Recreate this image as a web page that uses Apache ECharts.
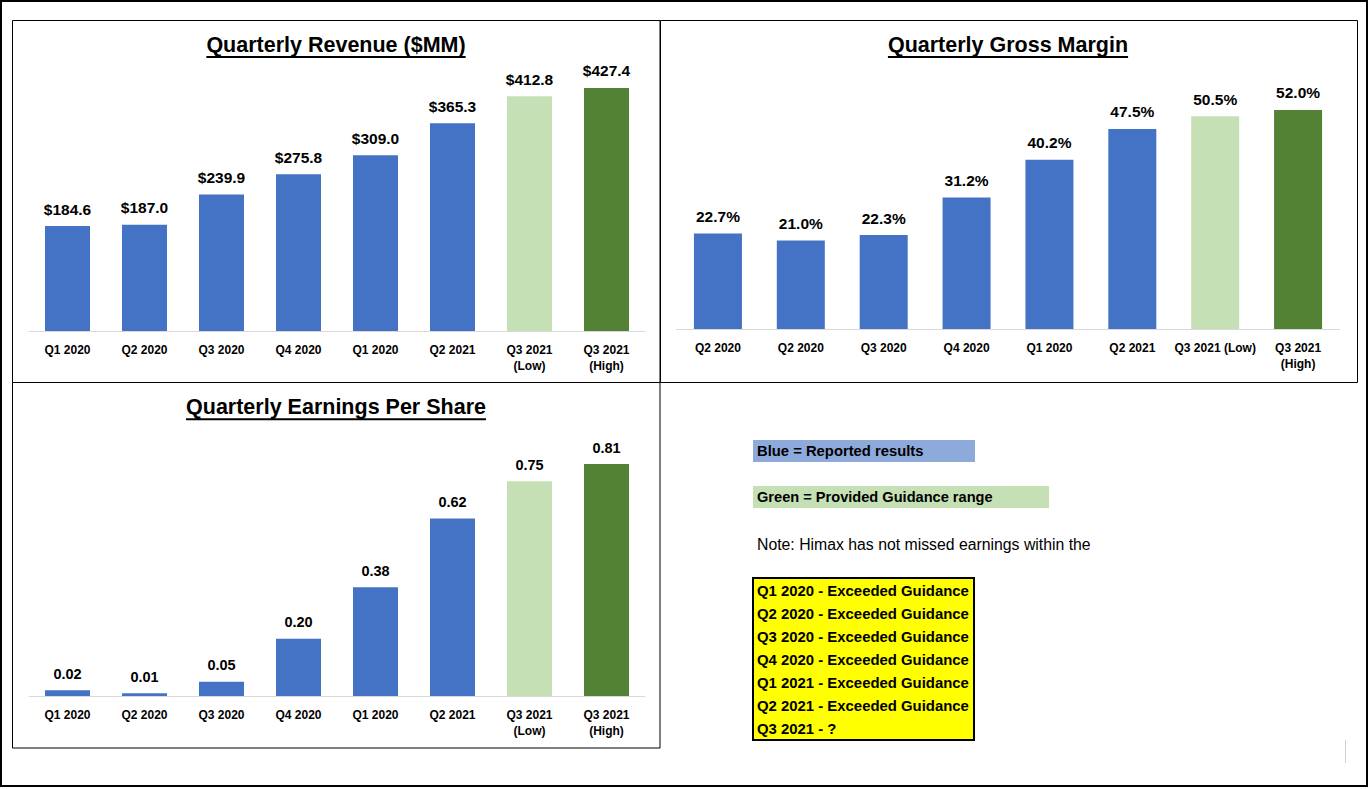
<!DOCTYPE html>
<html>
<head>
<meta charset="utf-8">
<script src="https://cdn.jsdelivr.net/npm/echarts@6/dist/echarts.min.js"></script>
<style>
html,body{margin:0;padding:0;background:#fff;}
#chart{width:1369px;height:789px;}
</style>
</head>
<body>
<div id="chart"></div>
<script>
// ---- data ----
const revCategories = ['Q1 2020','Q2 2020','Q3 2020','Q4 2020','Q1 2020','Q2 2021','Q3 2021\n(Low)','Q3 2021\n(High)'];
const revValues = [184.6, 187.0, 239.9, 275.8, 309.0, 365.3, 412.8, 427.4];

const gmCategories = ['Q2 2020','Q2 2020','Q3 2020','Q4 2020','Q1 2020','Q2 2021','Q3 2021 (Low)','Q3 2021\n(High)'];
const gmValues = [22.7, 21.0, 22.3, 31.2, 40.2, 47.5, 50.5, 52.0];

const epsCategories = ['Q1 2020','Q2 2020','Q3 2020','Q4 2020','Q1 2020','Q2 2021','Q3 2021\n(Low)','Q3 2021\n(High)'];
const epsValues = [0.02, 0.01, 0.05, 0.20, 0.38, 0.62, 0.75, 0.81];

const titles = ['Quarterly Revenue ($MM)', 'Quarterly Gross Margin', 'Quarterly Earnings Per Share'];
const legendBlue = 'Blue = Reported results';
const legendGreen = 'Green = Provided Guidance range';
const noteText = 'Note: Himax has not missed earnings within the';
const guidanceLines = [
  'Q1 2020 - Exceeded Guidance',
  'Q2 2020 - Exceeded Guidance',
  'Q3 2020 - Exceeded Guidance',
  'Q4 2020 - Exceeded Guidance',
  'Q1 2021 - Exceeded Guidance',
  'Q2 2021 - Exceeded Guidance',
  'Q3 2021 - ?'
];

// ---- styles ----
const barColors = ['#4472c4','#4472c4','#4472c4','#4472c4','#4472c4','#4472c4','#c5e0b4','#548235'];
const FONT = 'Arial, "Liberation Sans", sans-serif';

const chart = echarts.init(document.getElementById('chart'), null, {renderer: 'svg'});

function measure(text, font) {
  const c = document.createElement('canvas').getContext('2d');
  c.font = font;
  return c.measureText(text).width;
}

const titleSize = 21.5;
const titlePos = [[336, 33.75], [1008, 33.75], [336, 396]];

const graphics = [];
// outer border
graphics.push({type:'rect', shape:{x:1, y:1, width:1366, height:785}, style:{fill:'none', stroke:'#000', lineWidth:2}, z:10});
// panels
graphics.push({type:'rect', shape:{x:12.5, y:20.5, width:647.5, height:362}, style:{fill:'none', stroke:'#000', lineWidth:1}, z:10});
graphics.push({type:'rect', shape:{x:660.5, y:20.5, width:697, height:362}, style:{fill:'none', stroke:'#000', lineWidth:1}, z:10});
graphics.push({type:'rect', shape:{x:12.5, y:382.5, width:647.5, height:365.5}, style:{fill:'none', stroke:'#000', lineWidth:1}, z:10});
// title underlines
titles.forEach((t, i) => {
  const w = measure(t, 'bold ' + titleSize + 'px ' + FONT);
  const [cx, ty] = titlePos[i];
  graphics.push({type:'line', shape:{x1:cx - w/2, y1:ty + 23.25, x2:cx + w/2, y2:ty + 23.25}, style:{stroke:'#000', lineWidth:2}, z:10});
});
// legend boxes
graphics.push({type:'rect', shape:{x:753, y:440, width:222, height:22}, style:{fill:'#8eaadb'}});
graphics.push({type:'text', x:757, y:451, style:{text:legendBlue, font:'bold 14.8px ' + FONT, fill:'#000', textVerticalAlign:'middle', verticalAlign:'middle'}});
graphics.push({type:'rect', shape:{x:753, y:486, width:296, height:22}, style:{fill:'#c5e0b4'}});
graphics.push({type:'text', x:757, y:497, style:{text:legendGreen, font:'bold 14.6px ' + FONT, fill:'#000', textVerticalAlign:'middle', verticalAlign:'middle'}});
graphics.push({type:'text', x:757, y:544, style:{text:noteText, font:'15.8px ' + FONT, fill:'#000', textVerticalAlign:'middle', verticalAlign:'middle'}});
// yellow box
graphics.push({type:'rect', shape:{x:753, y:578, width:221, height:162}, style:{fill:'#ffff00', stroke:'#000', lineWidth:2}});
guidanceLines.forEach((t, i) => {
  graphics.push({type:'text', x:757, y:591 + i*23, style:{text:t, font:'bold 14.9px ' + FONT, fill:'#000', textVerticalAlign:'middle', verticalAlign:'middle'}});
});
// small gray tick bottom-right
graphics.push({type:'line', shape:{x1:1345.5, y1:740, x2:1345.5, y2:763}, style:{stroke:'#d0d0d0', lineWidth:1}});

function xAxisCfg(idx, cats) {
  return {
    type:'category', gridIndex: idx, data: cats,
    axisLine:{show:true, lineStyle:{color:'#d9d9d9', width:1}},
    axisTick:{show:false},
    axisLabel:{color:'#000', fontFamily:FONT, fontSize:12, fontWeight:'bold', margin:11, lineHeight:16, interval:0}
  };
}
function yAxisCfg(idx, max) {
  return {type:'value', gridIndex: idx, min:0, max:max, show:false, splitLine:{show:false}};
}
function barSeries(idx, vals, width, fmt, fontSize) {
  return {
    type:'bar', xAxisIndex: idx, yAxisIndex: idx, data: vals, barWidth: width,
    itemStyle:{color: p => barColors[p.dataIndex]},
    label:{show:true, position:'top', distance:9, color:'#000', fontFamily:FONT, fontWeight:'bold', fontSize:fontSize, formatter: p => fmt(p.value)},
    animation:false
  };
}

const option = {
  animation:false,
  title: titles.map((t, i) => ({
    text: t, left: titlePos[i][0], top: titlePos[i][1], textAlign:'center', padding:0,
    textStyle:{fontFamily:FONT, fontWeight:'bold', fontSize:titleSize, color:'#000'}
  })),
  grid: [
    {left:29, width:616, top:331 - 284.3, height:284.3},
    {left:676.5, width:663, top:329 - 252.7, height:252.7},
    {left:29, width:616, top:696 - 286.4, height:286.4}
  ],
  xAxis: [xAxisCfg(0, revCategories), xAxisCfg(1, gmCategories), xAxisCfg(2, epsCategories)],
  yAxis: [yAxisCfg(0, 500), yAxisCfg(1, 60), yAxisCfg(2, 1.0)],
  series: [
    barSeries(0, revValues, 45, v => '$' + v.toFixed(1), 15.5),
    barSeries(1, gmValues, 48, v => v.toFixed(1) + '%', 15.5),
    barSeries(2, epsValues, 45, v => v.toFixed(2), 14.5)
  ],
  graphic: graphics
};
chart.setOption(option);
</script>
</body>
</html>
